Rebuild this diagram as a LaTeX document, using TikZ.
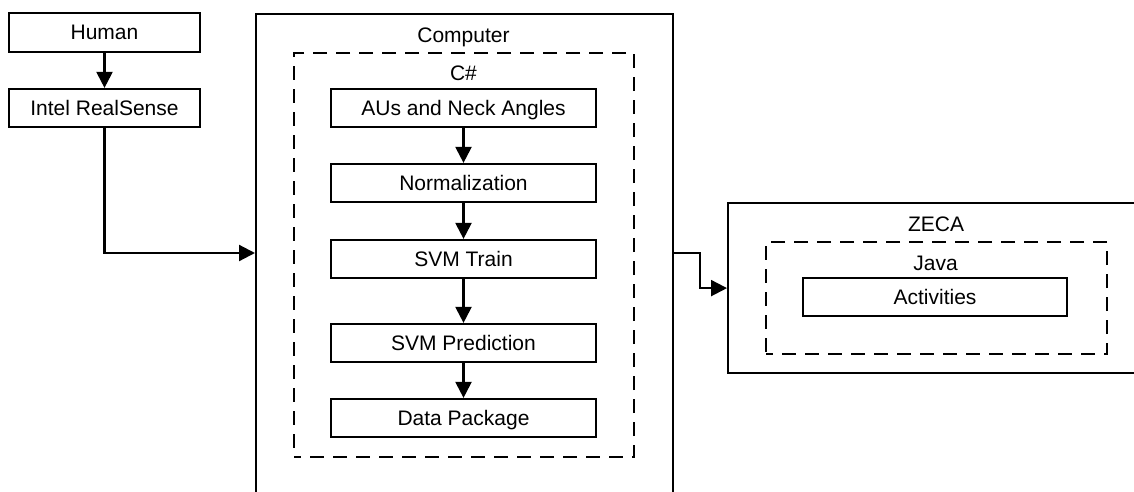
\documentclass[tikz,border=0pt]{standalone}
\usepackage{fontspec}
\setmainfont{Liberation Sans}
\usetikzlibrary{arrows.meta}
\begin{document}
\begin{tikzpicture}[x=1pt,y=-1pt,
  every node/.style={font=\fontsize{21}{25}\selectfont, inner sep=0pt,
    text height=15pt, text depth=0pt},
  box/.style={draw, line width=2.2pt, rectangle},
  step box/.style={box, minimum width=265pt, minimum height=38pt},
  group/.style={draw, line width=2.2pt, dash pattern=on 14pt off 9pt, dash phase=7pt},
  flow/.style={line width=2.2pt, -{Triangle[length=16pt,width=16pt]}},
  tag/.style={}]
  % page frame
  \path[use as bounding box, clip] (0,0) rectangle (1134,492);
  \fill[white] (0,0) rectangle (1134,492);

  % sensing chain
  \node[box, minimum width=191pt, minimum height=39pt] (human) at (104.5,32.5) {Human};
  \node[box, minimum width=191pt, minimum height=38pt] (intel) at (104.5,108) {Intel RealSense};

  % computer with its C# pipeline
  \node[box, anchor=north west, minimum width=417pt, minimum height=530pt] (computer) at (255,13) {};
  \node[tag] (computerlabel) at (463.5,35.5) {Computer};
  \node[group, anchor=north west, minimum width=340pt, minimum height=404pt] (csharp) at (293,52) {};
  \node[tag] (csharplabel) at (463.5,73) {C\#};
  \node[step box] (aus)  at (463.5,108) {AUs and Neck Angles};
  \node[step box] (norm) at (463.5,183) {Normalization};
  \node[step box] (train) at (463.5,259) {SVM Train};
  \node[step box] (pred) at (463.5,343) {SVM Prediction};
  \node[step box] (pkg)  at (463.5,418) {Data Package};

  % ZECA with its Java part
  \node[box, anchor=north west, minimum width=419pt, minimum height=170pt] (zeca) at (727,202) {};
  \node[tag] (zecalabel) at (936,223.5) {ZECA};
  \node[group, anchor=north west, minimum width=341pt, minimum height=112pt] (java) at (765,241) {};
  \node[tag] (javalabel) at (935.5,263) {Java};
  \node[box, minimum width=264pt, minimum height=38pt] (act) at (935,297) {Activities};

  % connectors
  \coordinate (cin) at (255,253);
  \coordinate (cout) at (672,253);
  \draw[flow] (human) -- (intel);
  \draw[flow] (intel.south) |- (cin);
  \draw[flow] (aus) -- (norm);
  \draw[flow] (norm) -- (train);
  \draw[flow] (train) -- (pred);
  \draw[flow] (pred) -- (pkg);
  \draw[flow] (cout) -- ++(28,0) |- (zeca.west);
\end{tikzpicture}
\end{document}
